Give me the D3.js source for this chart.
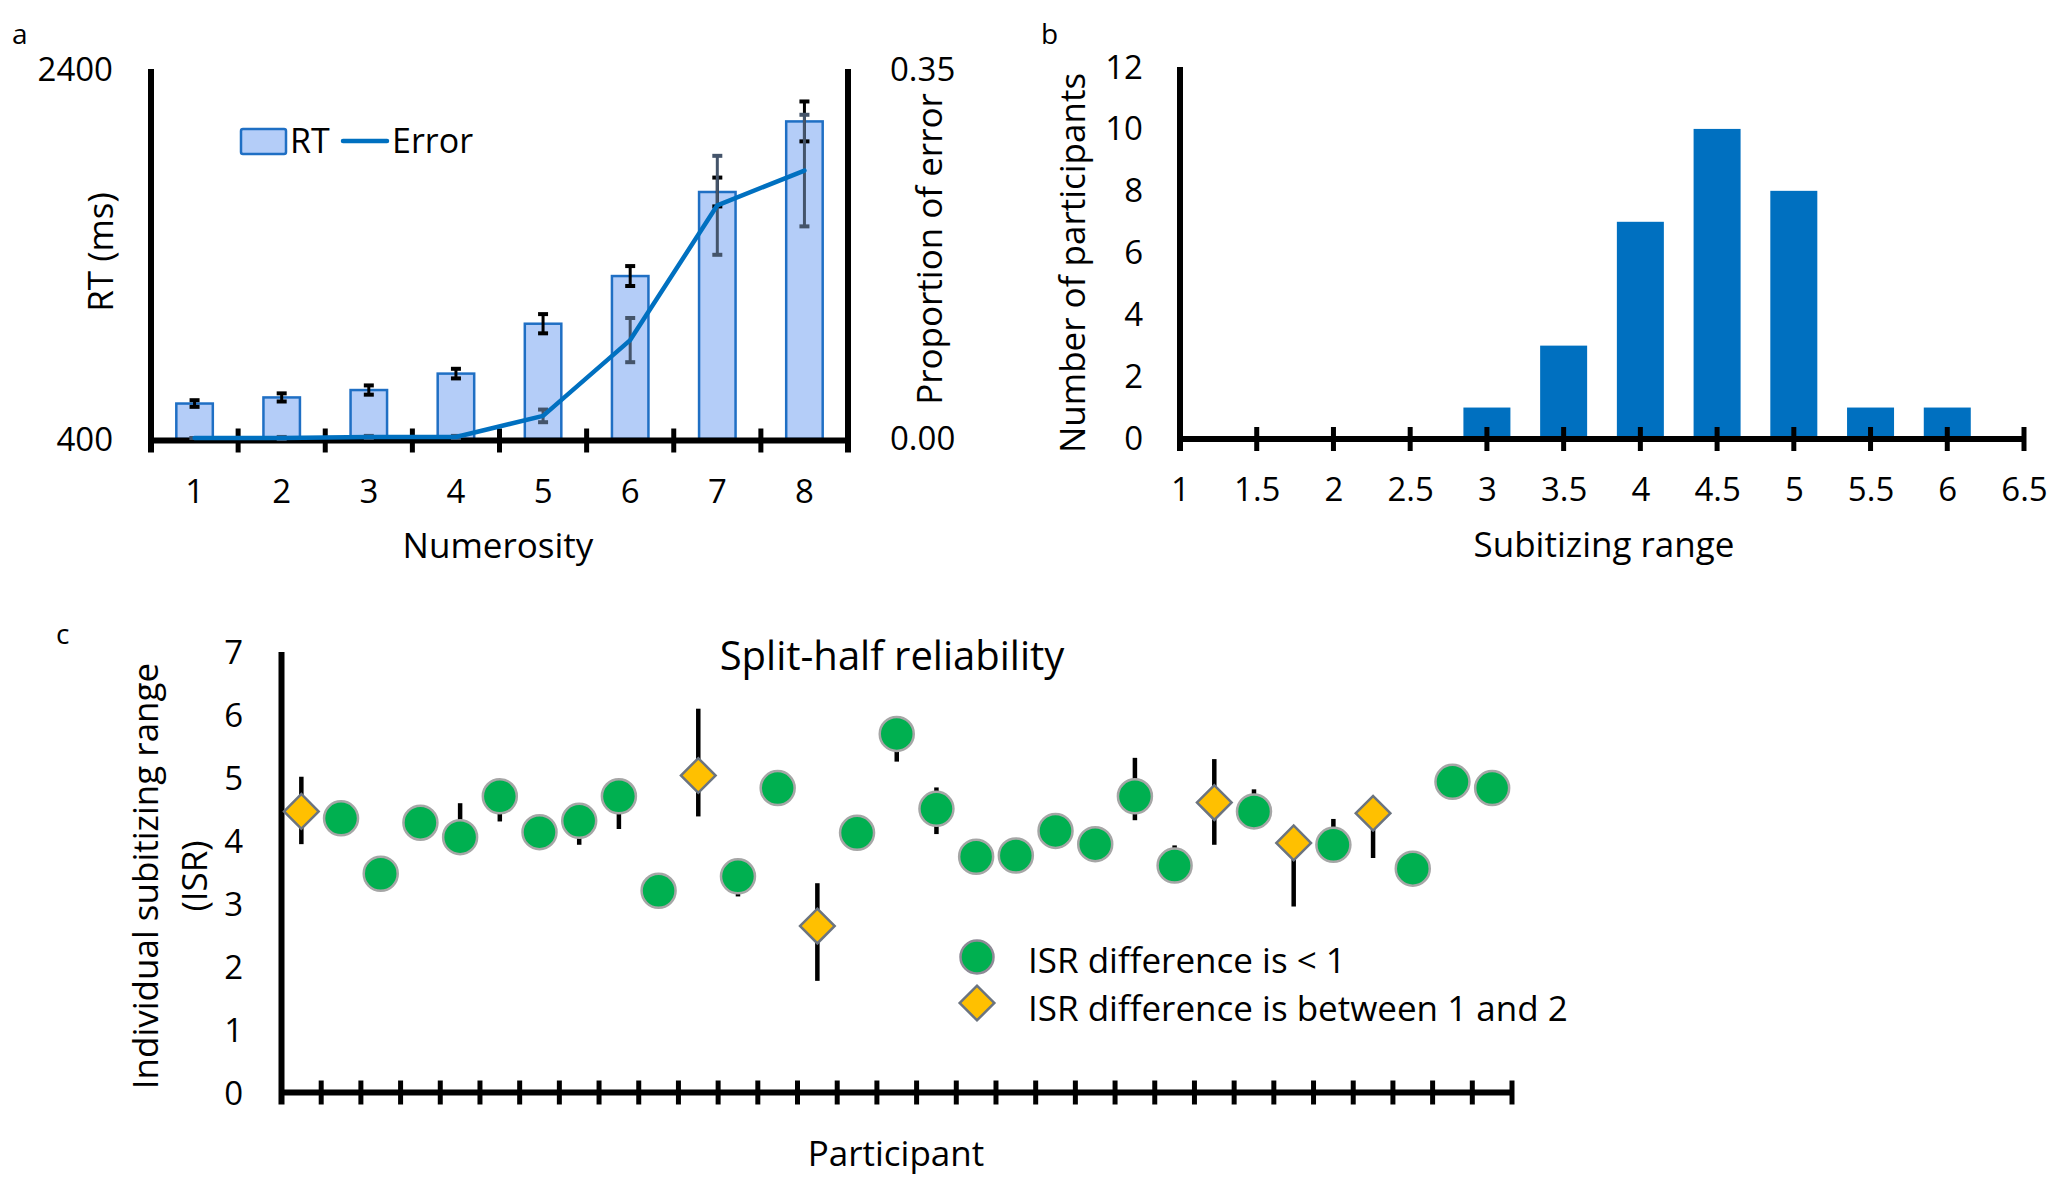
<!DOCTYPE html>
<html>
<head>
<meta charset="utf-8">
<script src="https://cdn.jsdelivr.net/npm/d3@7/dist/d3.min.js"></script>
<style>
  body { margin: 0; background: #fff; }
  text { font-family: "Open Sans", "DejaVu Sans", sans-serif; fill: #000; }
</style>
</head>
<body>
<svg id="fig" width="2055" height="1179"></svg>
<script>
// ---- panel a: RT and error by numerosity
var numerosity = [1, 2, 3, 4, 5, 6, 7, 8];
var rt_mean = [592, 625, 665, 754, 1024, 1282, 1737, 2119];
var rt_se = [18, 22, 25, 26, 52, 54, 78, 108];
var err_mean = [0, 0, 0.001, 0.001, 0.021, 0.093, 0.221, 0.254];
var err_se = [0, 0.001, 0.001, 0.001, 0.006, 0.021, 0.047, 0.053];
var rt_ticks = [400, 2400];
var err_ticks = [0, 0.35];

// ---- panel b: histogram of subitizing range
var range_bins = [1, 1.5, 2, 2.5, 3, 3.5, 4, 4.5, 5, 5.5, 6, 6.5];
var range_counts = [0, 0, 0, 0, 1, 3, 7, 10, 8, 1, 1, 0];
var count_ticks = [0, 2, 4, 6, 8, 10, 12];

// ---- panel c: split-half ISR per participant
var isr_value = [4.47, 4.36, 3.48, 4.29, 4.06, 4.71, 4.14, 4.32, 4.71, 3.21,
                 5.04, 3.44, 4.84, 2.65, 4.13, 5.70, 4.51, 3.75, 3.77, 4.16,
                 3.95, 4.71, 3.61, 4.61, 4.47, 3.97, 3.94, 4.44, 3.56, 4.94, 4.84];
var isr_low = [3.95, 4.36, 3.48, 4.29, 4.06, 4.31, 4.14, 3.94, 4.19, 3.21,
               4.39, 3.12, 4.84, 1.78, 4.13, 5.26, 4.11, 3.75, 3.77, 4.16,
               3.95, 4.33, 3.61, 3.94, 4.47, 2.96, 3.94, 3.73, 3.56, 4.94, 4.84];
var isr_high = [5.02, 4.36, 3.48, 4.29, 4.60, 4.71, 4.14, 4.32, 4.71, 3.21,
                6.10, 3.44, 4.84, 3.33, 4.13, 5.70, 4.85, 3.75, 3.77, 4.16,
                3.95, 5.32, 3.93, 5.30, 4.82, 3.97, 4.35, 4.69, 3.56, 4.94, 4.84];
var isr_group = ["b", "a", "a", "a", "a", "a", "a", "a", "a", "a",
                 "b", "a", "a", "b", "a", "a", "a", "a", "a", "a",
                 "a", "a", "a", "b", "a", "b", "a", "b", "a", "a", "a"];
var isr_ticks = [0, 1, 2, 3, 4, 5, 6, 7];
var legend_labels = ["ISR difference is < 1", "ISR difference is between 1 and 2"];

var bar_light = "#b4cdf8", bar_edge = "#1f6fc4", line_blue = "#0070c0";
var green = "#00b050", amber = "#ffc000";
var axis_w = 6, tick_w = 5, tick_half = 12;

var svg = d3.select("#fig");

function rotated_label(g, x, y, txt, size) {
    g.append("text")
        .attr("transform", "translate(" + x + "," + y + ") rotate(-90)")
        .attr("text-anchor", "middle")
        .style("font-size", size + "px")
        .text(txt);
}

// =================== panel a ===================
var pa = svg.append("g");
var xa = d3.scaleBand().domain(numerosity).range([151, 848]).padding(0);
var ya = d3.scaleLinear().domain([400, 2400]).range([439, 69.5]);
var ya2 = d3.scaleLinear().domain([0, 0.35]).range([438, 69.5]);
var bar_w_a = 36.5;
var a_base = 440.5;

pa.append("text").attr("x", 12).attr("y", 44).style("font-size", "28px").text("a");

pa.selectAll(".rt-bar").data(numerosity).enter().append("rect")
    .attr("class", "rt-bar")
    .attr("x", function (d) { return xa(d) + xa.bandwidth() / 2 - bar_w_a / 2; })
    .attr("y", function (d, i) { return ya(rt_mean[i]); })
    .attr("width", bar_w_a)
    .attr("height", function (d, i) { return ya(400) - ya(rt_mean[i]); })
    .attr("fill", bar_light).attr("stroke", bar_edge).attr("stroke-width", 2.5);

// RT error bars (black)
var rt_err = pa.selectAll(".rt-err").data(numerosity).enter().append("g").attr("class", "rt-err")
    .attr("stroke", "#000").attr("stroke-width", 3);
rt_err.append("line")
    .attr("x1", function (d) { return xa(d) + xa.bandwidth() / 2; })
    .attr("x2", function (d) { return xa(d) + xa.bandwidth() / 2; })
    .attr("y1", function (d, i) { return ya(rt_mean[i] - rt_se[i]); })
    .attr("y2", function (d, i) { return ya(rt_mean[i] + rt_se[i]); });
[-1, 1].forEach(function (s) {
    rt_err.append("line")
        .attr("x1", function (d) { return xa(d) + xa.bandwidth() / 2 - 5; })
        .attr("x2", function (d) { return xa(d) + xa.bandwidth() / 2 + 5; })
        .attr("y1", function (d, i) { return ya(rt_mean[i] + s * rt_se[i]); })
        .attr("y2", function (d, i) { return ya(rt_mean[i] + s * rt_se[i]); })
        .attr("stroke-width", 4);
});

// axes panel a
pa.append("line").attr("x1", xa.range()[0]).attr("x2", xa.range()[1])
    .attr("y1", a_base).attr("y2", a_base).attr("stroke", "#000").attr("stroke-width", axis_w);
pa.append("line").attr("x1", xa.range()[0]).attr("x2", xa.range()[0])
    .attr("y1", 69).attr("y2", a_base + tick_half).attr("stroke", "#000").attr("stroke-width", axis_w);
pa.append("line").attr("x1", xa.range()[1]).attr("x2", xa.range()[1])
    .attr("y1", 69).attr("y2", a_base + tick_half).attr("stroke", "#000").attr("stroke-width", axis_w);
pa.selectAll(".a-tick").data(d3.range(1, numerosity.length)).enter().append("line")
    .attr("x1", function (i) { return xa.range()[0] + i * xa.step(); })
    .attr("x2", function (i) { return xa.range()[0] + i * xa.step(); })
    .attr("y1", a_base - tick_half).attr("y2", a_base + tick_half)
    .attr("stroke", "#000").attr("stroke-width", tick_w);

pa.append("g").attr("transform", "translate(0," + a_base + ")")
    .call(d3.axisBottom(xa).tickSize(0).tickPadding(0))
    .call(function (g) { g.select(".domain").remove(); })
    .selectAll("text").attr("y", 62).attr("dy", 0).style("font-size", "33px")
    .style("font-family", "'Open Sans', sans-serif").attr("fill", "#000");

pa.selectAll(".rt-lab").data(rt_ticks).enter().append("text")
    .attr("x", 113).attr("y", function (d) { return ya(d); }).attr("dy", "0.35em")
    .attr("text-anchor", "end").style("font-size", "33px").text(function (d) { return d; });
pa.selectAll(".err-lab").data(err_ticks).enter().append("text")
    .attr("x", 890).attr("y", function (d) { return ya2(d); }).attr("dy", "0.35em")
    .style("font-size", "33px").text(function (d) { return d3.format(".2f")(d); });

// error line and its error bars
var err_line = d3.line()
    .x(function (d, i) { return xa(numerosity[i]) + xa.bandwidth() / 2; })
    .y(function (d) { return ya2(d); })
    .curve(d3.curveLinear);
var le = pa.selectAll(".err-err").data(numerosity).enter().append("g").attr("class", "err-err")
    .attr("stroke", "#44546a").attr("stroke-width", 3);
le.append("line")
    .attr("x1", function (d) { return xa(d) + xa.bandwidth() / 2; })
    .attr("x2", function (d) { return xa(d) + xa.bandwidth() / 2; })
    .attr("y1", function (d, i) { return ya2(err_mean[i] - err_se[i]); })
    .attr("y2", function (d, i) { return ya2(err_mean[i] + err_se[i]); });
[-1, 1].forEach(function (s) {
    le.append("line")
        .attr("x1", function (d) { return xa(d) + xa.bandwidth() / 2 - 5; })
        .attr("x2", function (d) { return xa(d) + xa.bandwidth() / 2 + 5; })
        .attr("y1", function (d, i) { return ya2(err_mean[i] + s * err_se[i]); })
        .attr("y2", function (d, i) { return ya2(err_mean[i] + s * err_se[i]); })
        .attr("stroke-width", 4);
});
pa.append("path").datum(err_mean).attr("d", err_line)
    .attr("fill", "none").attr("stroke", line_blue).attr("stroke-width", 4.5)
    .attr("stroke-linejoin", "round").attr("stroke-linecap", "round");

// legend panel a
pa.append("rect").attr("x", 241).attr("y", 129).attr("width", 45).attr("height", 25).attr("rx", 2)
    .attr("fill", bar_light).attr("stroke", bar_edge).attr("stroke-width", 2.5);
pa.append("text").attr("x", 290).attr("y", 153).style("font-size", "34px").text("RT");
pa.append("line").attr("x1", 343).attr("x2", 387).attr("y1", 141).attr("y2", 141)
    .attr("stroke", line_blue).attr("stroke-width", 4.5).attr("stroke-linecap", "round");
pa.append("text").attr("x", 392).attr("y", 153).style("font-size", "34px").text("Error");

rotated_label(pa, 113, 252, "RT (ms)", 35);
rotated_label(pa, 942, 249, "Proportion of error", 35);
pa.append("text").attr("x", 498).attr("y", 558).attr("text-anchor", "middle")
    .style("font-size", "35px").text("Numerosity");

// =================== panel b ===================
var pb = svg.append("g");
var xb = d3.scaleLinear().domain([1, 6.5]).range([1180, 2024]);
var yb = d3.scaleLinear().domain([0, 12]).range([438.5, 67]);
var bar_w_b = 47;
var b_base = 439;

pb.append("text").attr("x", 1041).attr("y", 44).style("font-size", "28px").text("b");

pb.selectAll(".cnt-bar").data(range_bins).enter().append("rect")
    .attr("class", "cnt-bar")
    .attr("x", function (d) { return xb(d) - bar_w_b / 2; })
    .attr("y", function (d, i) { return yb(range_counts[i]); })
    .attr("width", bar_w_b)
    .attr("height", function (d, i) { return yb(0) - yb(range_counts[i]); })
    .attr("fill", line_blue);

pb.append("line").attr("x1", xb.range()[0]).attr("x2", xb.range()[1])
    .attr("y1", b_base).attr("y2", b_base).attr("stroke", "#000").attr("stroke-width", axis_w);
pb.append("line").attr("x1", xb.range()[0]).attr("x2", xb.range()[0])
    .attr("y1", 67).attr("y2", b_base + tick_half).attr("stroke", "#000").attr("stroke-width", axis_w);
pb.selectAll(".b-tick").data(range_bins.slice(1)).enter().append("line")
    .attr("x1", function (d) { return xb(d); }).attr("x2", function (d) { return xb(d); })
    .attr("y1", b_base - tick_half).attr("y2", b_base + tick_half)
    .attr("stroke", "#000").attr("stroke-width", tick_w);

pb.append("g").attr("transform", "translate(0," + b_base + ")")
    .call(d3.axisBottom(xb).tickValues(range_bins).tickFormat(d3.format("")).tickSize(0).tickPadding(0))
    .call(function (g) { g.select(".domain").remove(); })
    .selectAll("text").attr("y", 62).attr("dy", 0).style("font-size", "33px")
    .style("font-family", "'Open Sans', sans-serif").attr("fill", "#000");

pb.selectAll(".cnt-lab").data(count_ticks).enter().append("text")
    .attr("x", 1143).attr("y", function (d) { return yb(d); }).attr("dy", "0.35em")
    .attr("text-anchor", "end").style("font-size", "33px").text(function (d) { return d; });

rotated_label(pb, 1085, 263, "Number of participants", 35);
pb.append("text").attr("x", 1604).attr("y", 557).attr("text-anchor", "middle")
    .style("font-size", "35px").text("Subitizing range");

// =================== panel c ===================
var pc = svg.append("g");
var xc = d3.scaleBand().domain(d3.range(isr_value.length)).range([281.5, 1512]).padding(0);
var yc = d3.scaleLinear().domain([0, 7]).range([1093, 652]);
var c_base = 1092.5;

pc.append("text").attr("x", 56).attr("y", 644).style("font-size", "28px").text("c");
pc.append("text").attr("x", 892).attr("y", 670).attr("text-anchor", "middle")
    .style("font-size", "40px").text("Split-half reliability");

pc.selectAll(".isr-lab").data(isr_ticks).enter().append("text")
    .attr("x", 243).attr("y", function (d) { return yc(d); }).attr("dy", "0.35em")
    .attr("text-anchor", "end").style("font-size", "33px").text(function (d) { return d; });

pc.append("line").attr("x1", xc.range()[0]).attr("x2", xc.range()[1])
    .attr("y1", c_base).attr("y2", c_base).attr("stroke", "#000").attr("stroke-width", axis_w);
pc.append("line").attr("x1", xc.range()[0]).attr("x2", xc.range()[0])
    .attr("y1", 652).attr("y2", c_base + tick_half).attr("stroke", "#000").attr("stroke-width", axis_w);
pc.selectAll(".c-tick").data(d3.range(1, isr_value.length + 1)).enter().append("line")
    .attr("x1", function (i) { return xc.range()[0] + i * xc.step(); })
    .attr("x2", function (i) { return xc.range()[0] + i * xc.step(); })
    .attr("y1", c_base - tick_half).attr("y2", c_base + tick_half)
    .attr("stroke", "#000").attr("stroke-width", tick_w);

var cx = function (i) { return xc(i) + xc.bandwidth() / 2; };

// split-half bars behind the markers
pc.selectAll(".isr-err").data(d3.range(isr_value.length).filter(function (i) { return isr_high[i] > isr_low[i]; }))
    .enter().append("line").attr("class", "isr-err")
    .attr("x1", cx).attr("x2", cx)
    .attr("y1", function (i) { return yc(isr_low[i]); })
    .attr("y2", function (i) { return yc(isr_high[i]); })
    .attr("stroke", "#000").attr("stroke-width", 4.5);

var idx = d3.range(isr_value.length);
pc.selectAll(".isr-dot").data(idx.filter(function (i) { return isr_group[i] === "a"; }))
    .enter().append("circle").attr("class", "isr-dot")
    .attr("cx", cx).attr("cy", function (i) { return yc(isr_value[i]); })
    .attr("r", 17).attr("fill", green).attr("stroke", "#a6a6a6").attr("stroke-width", 2.5);

var diamond = d3.symbol().type(d3.symbolSquare).size(600);
pc.selectAll(".isr-dia").data(idx.filter(function (i) { return isr_group[i] === "b"; }))
    .enter().append("path").attr("class", "isr-dia")
    .attr("d", diamond)
    .attr("transform", function (i) { return "translate(" + cx(i) + "," + yc(isr_value[i]) + ") rotate(45)"; })
    .attr("fill", amber).attr("stroke", "#6b7480").attr("stroke-width", 2.5);

// legend panel c
pc.append("circle").attr("cx", 977).attr("cy", 957).attr("r", 16.5)
    .attr("fill", green).attr("stroke", "#8e8a96").attr("stroke-width", 2.5);
pc.append("path").attr("d", diamond)
    .attr("transform", "translate(977,1003) rotate(45)")
    .attr("fill", amber).attr("stroke", "#6b7480").attr("stroke-width", 2.5);
pc.selectAll(".c-leg").data(legend_labels).enter().append("text")
    .attr("x", 1028).attr("y", function (d, i) { return 973 + i * 47.5; })
    .style("font-size", "35px").text(function (d) { return d; });

rotated_label(pc, 158, 876, "Individual subitizing range", 35);
rotated_label(pc, 207, 876, "(ISR)", 35);
pc.append("text").attr("x", 896).attr("y", 1166).attr("text-anchor", "middle")
    .style("font-size", "35px").text("Participant");
</script>
</body>
</html>
